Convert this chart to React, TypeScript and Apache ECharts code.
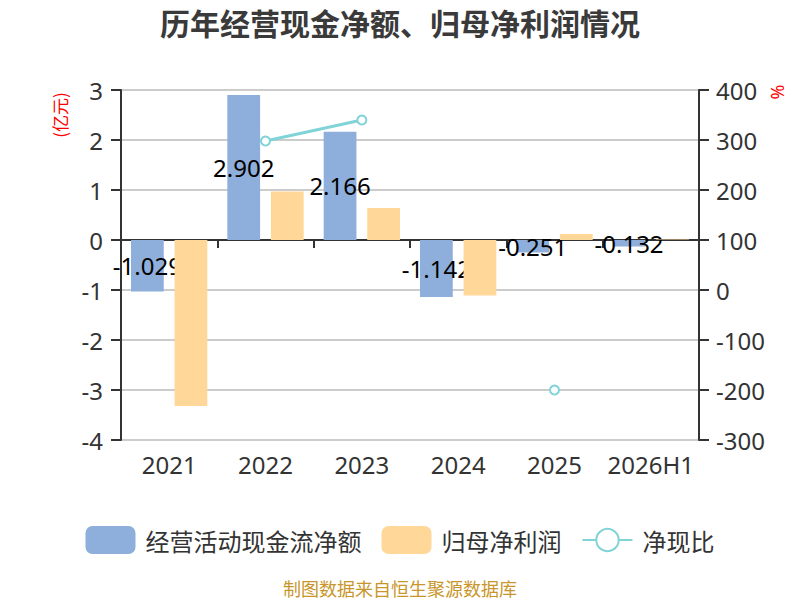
import React, { useEffect, useRef } from "react";
import * as echarts from "echarts";

const categories = ["2021", "2022", "2023", "2024", "2025", "2026H1"];
const cashFlow = [-1.029, 2.902, 2.166, -1.142, -0.251, -0.132];
const netProfit = [-3.32, 0.97, 0.64, -1.11, 0.12, 0.01];
const cashRatio: (number | null)[] = [null, 298, 340, null, -200, null];
const seriesNames = ["经营活动现金流净额", "归母净利润", "净现比"];

const FONT = "'Noto Sans', 'Noto Sans CJK SC', sans-serif";
const CJK = "'Noto Sans CJK SC', 'Noto Sans', sans-serif";

export default function App() {
  const ref = useRef<HTMLDivElement>(null);
  useEffect(() => {
    document.body.style.margin = "0";
    if (!ref.current) return;
    const chart = echarts.init(ref.current, undefined, { renderer: "svg" });
    chart.setOption({
      animation: false,
      backgroundColor: "#ffffff",
      textStyle: { fontFamily: FONT },
      title: {
        text: "历年经营现金净额、归母净利润情况",
        left: "center",
        top: 2,
        textStyle: { fontSize: 30, fontWeight: "bold", color: "#3a3a3a", fontFamily: CJK },
      },
      legend: {
        data: seriesNames,
        top: 521,
        left: "center",
        itemWidth: 50,
        itemHeight: 28,
        itemGap: 20,
        textStyle: { fontSize: 24, color: "#333", fontFamily: CJK, padding: [0, 0, 0, 5] },
      },
      grid: { left: 121, right: 101, top: 90, bottom: 160, containLabel: false },
      xAxis: [
        {
          type: "category",
          data: categories,
          position: "bottom",
          axisLine: { onZero: true, onZeroAxisIndex: 0, lineStyle: { color: "#333", width: 2 } },
          axisTick: { show: true, length: 8, lineStyle: { color: "#333", width: 2 } },
          axisLabel: { show: false },
          splitLine: { show: false },
        },
        {
          type: "category",
          data: categories,
          position: "bottom",
          axisLine: { show: false, onZero: false },
          axisTick: { show: false },
          axisLabel: { interval: 0, fontSize: 24, color: "#333", margin: 12, fontFamily: FONT },
          splitLine: { show: false },
        },
      ],
      yAxis: [
        {
          type: "value",
          min: -4,
          max: 3,
          interval: 1,
          position: "left",
          axisLine: { show: true, lineStyle: { color: "#333", width: 2 } },
          axisTick: { show: true, length: 10, lineStyle: { color: "#333", width: 2 } },
          axisLabel: { fontSize: 24, color: "#333", margin: 18, fontFamily: FONT },
          splitLine: { show: true, lineStyle: { color: "#cccccc", width: 2 } },
        },
        {
          type: "value",
          min: -300,
          max: 400,
          interval: 100,
          position: "right",
          axisLine: { show: true, lineStyle: { color: "#333", width: 2 } },
          axisTick: { show: true, length: 10, lineStyle: { color: "#333", width: 2 } },
          axisLabel: { fontSize: 24, color: "#333", margin: 17, fontFamily: FONT },
          splitLine: { show: false },
        },
      ],
      graphic: [
        {
          type: "text",
          x: 59,
          y: 115,
          rotation: Math.PI / 2,
          style: {
            text: "(亿元)",
            fill: "#ff0000",
            fontSize: 17,
            fontFamily: CJK,
            align: "center",
            verticalAlign: "middle",
          },
        },
        {
          type: "text",
          x: 777,
          y: 92,
          rotation: Math.PI / 2,
          style: {
            text: "%",
            fill: "#ff0000",
            fontSize: 18,
            fontFamily: FONT,
            align: "center",
            verticalAlign: "middle",
          },
        },
        {
          type: "text",
          x: 400,
          y: 588,
          style: {
            text: "制图数据来自恒生聚源数据库",
            fill: "#c8962a",
            fontSize: 18,
            fontFamily: CJK,
            align: "center",
            verticalAlign: "middle",
          },
        },
      ],
      series: [
        {
          name: seriesNames[0],
          type: "bar",
          xAxisIndex: 0,
          yAxisIndex: 0,
          data: cashFlow,
          barWidth: "34%",
          barGap: "33%",
          z: 2,
          itemStyle: { color: "#8eaedb" },
          label: {
            show: true,
            position: "inside",
            color: "#000",
            fontSize: 24,
            fontFamily: FONT,
            textBorderWidth: 0,
          },
        },
        {
          name: seriesNames[1],
          type: "bar",
          xAxisIndex: 0,
          yAxisIndex: 0,
          data: netProfit,
          barWidth: "34%",
          barGap: "33%",
          z: 3,
          itemStyle: { color: "#ffd899" },
        },
        {
          name: seriesNames[2],
          type: "line",
          xAxisIndex: 0,
          yAxisIndex: 1,
          data: cashRatio,
          connectNulls: false,
          z: 4,
          symbol: "emptyCircle",
          symbolSize: 9,
          itemStyle: { color: "#80d3d6", borderWidth: 2 },
          lineStyle: { color: "#80d3d6", width: 3 },
        },
      ],
    });
    return () => chart.dispose();
  }, []);
  return <div ref={ref} style={{ width: 800, height: 600 }} />;
}
